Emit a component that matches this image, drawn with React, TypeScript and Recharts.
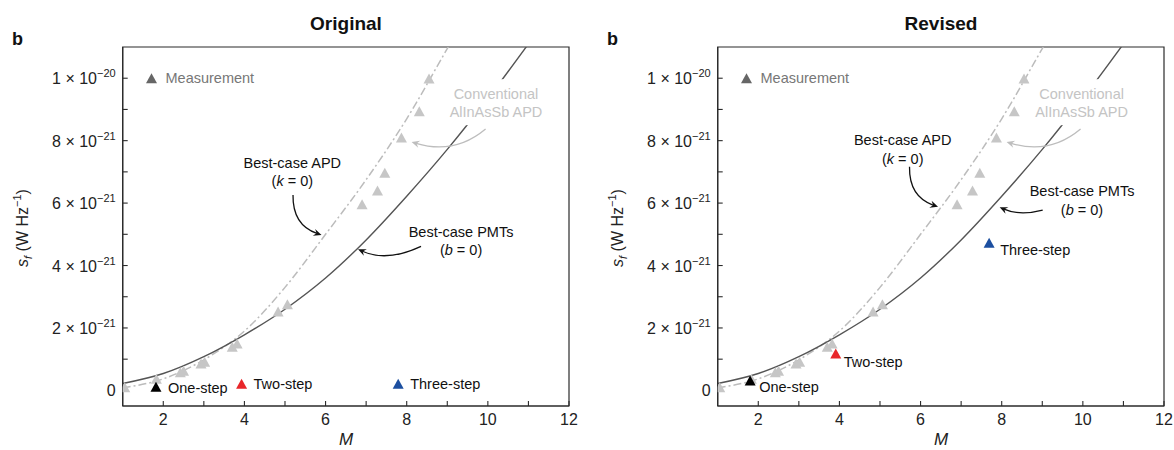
import React from 'react'
import {
  ComposedChart,
  Line,
  Scatter,
  XAxis,
  YAxis,
  ReferenceArea,
  ReferenceDot,
} from 'recharts'

// s_f values are in units of 1e-21 W Hz^-1

// measured points (same set in both panels)
const measM = [1.05, 1.83, 2.42, 2.5, 2.93, 3.02, 3.7, 3.82, 4.83, 5.06, 6.9, 7.28, 7.46, 7.87, 8.31, 8.55]
const measS = [0.1, 0.37, 0.58, 0.63, 0.86, 0.92, 1.4, 1.5, 2.53, 2.76, 5.96, 6.4, 6.97, 8.1, 8.94, 9.99]

// best-case PMTs (b = 0)
const pmtM = [1, 2, 3, 4, 5, 6, 7, 8, 9, 10, 11, 11.5]
const pmtS = [0.22, 0.54, 1.08, 1.78, 2.6, 3.6, 4.82, 6.22, 7.72, 9.35, 11.1, 12.0]

// best-case APD (k = 0)
const apdM = [1, 2, 3, 4, 5, 6, 7, 8, 9, 9.6]
const apdS = [0.08, 0.37, 0.98, 1.9, 3.3, 5.0, 6.75, 8.7, 10.95, 12.3]

const stepNames = ['One-step', 'Two-step', 'Three-step']
const stepColors = ['#000000', '#e8262a', '#1c4fa0']
const originalStepM = [1.82, 3.93, 7.79]
const originalStepS = [0.12, 0.21, 0.21]
const revisedStepM = [1.8, 3.91, 7.69]
const revisedStepS = [0.32, 1.18, 4.73]

const xTicks = [2, 3, 4, 5, 6, 7, 8, 9, 10, 11, 12]
const yTicks = [0, 1, 2, 3, 4, 5, 6, 7, 8, 9, 10]

const FONT = '"Liberation Sans", Arial, Helvetica, sans-serif'
const AX = '#2b2b2b'
const MEAS = '#c6c6c6'
const CONV = '#c4c4c4'

const tri = (cx: number, cy: number, fill: string, w = 11, h = 10) => (
  <path d={`M${cx},${cy - h / 2}L${cx + w / 2},${cy + h / 2}L${cx - w / 2},${cy + h / 2}Z`} fill={fill} />
)

const XTick = (p: any) => {
  const { x, y, payload } = p
  const v = payload.value
  return (
    <g>
      <line x1={x} x2={x} y1={y} y2={y - 5} stroke={AX} strokeWidth={1.1} />
      {v % 2 === 0 && (
        <text x={x} y={y + 19} textAnchor="middle" fontSize={16} fontFamily={FONT} fill="#222">
          {v}
        </text>
      )}
    </g>
  )
}

const YTick = (p: any) => {
  const { x, y, payload } = p
  const v = payload.value
  let label: React.ReactNode = null
  if (v === 0) label = '0'
  else if (v % 2 === 0) {
    const base = v === 10 ? '1 × 10' : `${v} × 10`
    const exp = v === 10 ? '−20' : '−21'
    label = (
      <>
        <tspan>{base}</tspan>
        <tspan fontSize={11} dy={-7}>{exp}</tspan>
      </>
    )
  }
  return (
    <g>
      {v !== 0 && <line x1={x} x2={x + 5} y1={y} y2={y} stroke={AX} strokeWidth={1.1} />}
      {label && (
        <text x={x - 7} y={y + 6} textAnchor="end" fontSize={16} fontFamily={FONT} fill="#222">
          {label}
        </text>
      )}
    </g>
  )
}

// curved arrow ending at (tx, ty); start and control are pixel offsets from the tip
const arrow = (tx: number, ty: number, s: number[], q: number[], color: string, w = 1.3) => {
  const len = Math.hypot(q[0], q[1])
  const dx = -q[0] / len
  const dy = -q[1] / len
  const L = 8
  const W = 3.6
  const bx = tx - dx * L
  const by = ty - dy * L
  const nx = -dy
  const ny = dx
  return (
    <g>
      <path
        d={`M${tx + s[0]},${ty + s[1]}Q${tx + q[0]},${ty + q[1]} ${tx - dx * L * 0.6},${ty - dy * L * 0.6}`}
        fill="none"
        stroke={color}
        strokeWidth={w}
      />
      <path
        d={`M${tx},${ty}L${bx + nx * W},${by + ny * W}L${tx - dx * L * 0.65},${ty - dy * L * 0.65}L${bx - nx * W},${by - ny * W}Z`}
        fill={color}
      />
    </g>
  )
}

const twoLine = (cx: number, cy: number, l1: React.ReactNode, l2: React.ReactNode, fill: string) => (
  <text textAnchor="middle" fontSize={14.5} fontFamily={FONT} fill={fill}>
    <tspan x={cx} y={cy - 9.25 + 5}>{l1}</tspan>
    <tspan x={cx} y={cy + 9.25 + 5}>{l2}</tspan>
  </text>
)

interface PanelCfg {
  left: number
  width: number
  stepM: number[]
  stepS: number[]
  stepOffsets: number[][]
  apdText: number[]
  apdTip: number[]
  pmtText: number[]
  pmtTip: number[]
  pmtStart: number[]
  pmtCtrl: number[]
  convText: number[]
}

const panels: PanelCfg[] = [
  {
    left: 0,
    width: 590,
    stepM: originalStepM,
    stepS: originalStepS,
    stepOffsets: [[12, 6], [12, 5], [12, 5]],
    apdText: [5.18, 7.0],
    apdTip: [5.9, 4.98],
    pmtText: [9.34, 4.79],
    pmtTip: [6.8, 4.52],
    pmtStart: [63, -3],
    pmtCtrl: [29, 13],
    convText: [10.2, 9.2],
  },
  {
    left: 595,
    width: 579,
    stepM: revisedStepM,
    stepS: revisedStepS,
    stepOffsets: [[9, 12], [8, 13], [11, 12]],
    apdText: [5.56, 7.72],
    apdTip: [6.43, 5.88],
    pmtText: [9.98, 6.08],
    pmtTip: [7.95, 5.87],
    pmtStart: [43, 3],
    pmtCtrl: [20, 9],
    convText: [9.97, 9.2],
  },
]

function Panel({ cfg }: { cfg: PanelCfg }) {
  const measData = measM.map((m, i) => ({ x: m, y: measS[i] }))
  const pmtData = pmtM.map((m, i) => ({ x: m, y: pmtS[i] }))
  const apdData = apdM.map((m, i) => ({ x: m, y: apdS[i] }))

  return (
    <div style={{ position: 'absolute', left: cfg.left, top: 0 }}>
      <ComposedChart
        width={cfg.width}
        height={450}
        margin={{ top: 47, right: cfg.width - 569, bottom: 14, left: 62.7 }}
      >
        <XAxis
          dataKey="x"
          type="number"
          domain={[1, 12]}
          ticks={xTicks}
          interval={0}
          allowDataOverflow
          tickSize={0}
          tickMargin={0}
          tickLine={false}
          axisLine={{ stroke: AX, strokeWidth: 1.2 }}
          tick={<XTick />}
          height={30}
        />
        <YAxis
          dataKey="y"
          type="number"
          domain={[-0.5, 11]}
          ticks={yTicks}
          interval={0}
          allowDataOverflow
          tickSize={0}
          tickMargin={0}
          tickLine={false}
          axisLine={{ stroke: AX, strokeWidth: 1.2 }}
          tick={<YTick />}
          width={60}
        />
        <ReferenceArea x1={1} x2={12} y1={-0.5} y2={11} fill="none" stroke={AX} strokeWidth={1.2} />
        <Line
          data={apdData}
          dataKey="y"
          type="monotone"
          stroke="#bcbcbc"
          strokeWidth={1.5}
          strokeDasharray="8 3 2 3"
          dot={false}
          isAnimationActive={false}
        />
        <Line
          data={pmtData}
          dataKey="y"
          type="monotone"
          stroke="#555555"
          strokeWidth={1.4}
          dot={false}
          isAnimationActive={false}
        />
        <Scatter
          data={measData}
          dataKey="y"
          isAnimationActive={false}
          shape={(p: any) => tri(p.cx, p.cy, MEAS)}
        />
        {/* conventional APD label (white box masks the PMT curve behind it) */}
        <Scatter
          data={[{ x: cfg.convText[0], y: cfg.convText[1] }]}
          dataKey="y"
          isAnimationActive={false}
          shape={(p: any) => (
            <g>
              <rect x={p.cx - 52} y={p.cy - 24} width={104} height={46} fill="#fff" />
              {twoLine(p.cx, p.cy, 'Conventional', 'AlInAsSb APD', CONV)}
            </g>
          )}
        />
        {stepNames.map((name, i) => (
          <Scatter
            key={name}
            data={[{ x: cfg.stepM[i], y: cfg.stepS[i] }]}
            dataKey="y"
            isAnimationActive={false}
            shape={(p: any) => (
              <g>
                {tri(p.cx, p.cy, stepColors[i])}
                <text
                  x={p.cx + cfg.stepOffsets[i][0]}
                  y={p.cy + cfg.stepOffsets[i][1]}
                  fontSize={14.5}
                  fontFamily={FONT}
                  fill="#111"
                >
                  {name}
                </text>
              </g>
            )}
          />
        ))}
        {/* legend */}
        <ReferenceDot
          x={1.71}
          y={10}
          r={0}
          shape={(p: any) => (
            <g>
              {tri(p.cx, p.cy, '#666666')}
              <text x={p.cx + 14} y={p.cy + 5} fontSize={14.5} fontFamily={FONT} fill="#777">
                Measurement
              </text>
            </g>
          )}
        />
        <ReferenceDot
          x={8.12}
          y={7.96}
          r={0}
          shape={(p: any) => arrow(p.cx, p.cy, [74, -13], [43, 13], '#bdbdbd', 1.3)}
        />
        {/* best-case APD */}
        <ReferenceDot
          x={cfg.apdText[0]}
          y={cfg.apdText[1]}
          r={0}
          shape={(p: any) =>
            twoLine(
              p.cx,
              p.cy,
              'Best-case APD',
              <>
                (<tspan fontStyle="italic">k</tspan> = 0)
              </>,
              '#111'
            )
          }
        />
        <ReferenceDot
          x={cfg.apdTip[0]}
          y={cfg.apdTip[1]}
          r={0}
          shape={(p: any) => arrow(p.cx, p.cy, [-28.5, -40], [-29, -10], '#111')}
        />
        {/* best-case PMTs */}
        <ReferenceDot
          x={cfg.pmtText[0]}
          y={cfg.pmtText[1]}
          r={0}
          shape={(p: any) =>
            twoLine(
              p.cx,
              p.cy,
              'Best-case PMTs',
              <>
                (<tspan fontStyle="italic">b</tspan> = 0)
              </>,
              '#111'
            )
          }
        />
        <ReferenceDot
          x={cfg.pmtTip[0]}
          y={cfg.pmtTip[1]}
          r={0}
          shape={(p: any) => arrow(p.cx, p.cy, cfg.pmtStart, cfg.pmtCtrl, '#111')}
        />
      </ComposedChart>
    </div>
  )
}

const titles = ['Original', 'Revised']

export default function App() {
  return (
    <div style={{ position: 'absolute', left: 0, top: 0, width: 1174, height: 450, background: '#fff', fontFamily: FONT }}>
      <svg width={1174} height={450} style={{ position: 'absolute', left: 0, top: 0 }}>
        {panels.map((cfg, i) => (
          <g key={i} fontFamily={FONT}>
            <text x={cfg.left + 12} y={45} fontSize={18} fontWeight="bold" fill="#111">
              b
            </text>
            <text x={cfg.left + 346} y={30} fontSize={19} fontWeight="bold" textAnchor="middle" fill="#111">
              {titles[i]}
            </text>
            <text x={cfg.left + 346} y={445} fontSize={17} fontStyle="italic" textAnchor="middle" fill="#222">
              M
            </text>
            <text
              transform={`rotate(-90 ${cfg.left + 22} 228)`}
              x={cfg.left + 22}
              y={228 + 6}
              fontSize={16}
              textAnchor="middle"
              fill="#222"
            >
              <tspan fontStyle="italic">s</tspan>
              <tspan fontStyle="italic" fontSize={11} dy={4}>f</tspan>
              <tspan dy={-4}> (W Hz</tspan>
              <tspan fontSize={11} dy={-7}>−1</tspan>
              <tspan dy={7}>)</tspan>
            </text>
          </g>
        ))}
      </svg>
      {panels.map((cfg, i) => (
        <Panel key={i} cfg={cfg} />
      ))}
    </div>
  )
}
